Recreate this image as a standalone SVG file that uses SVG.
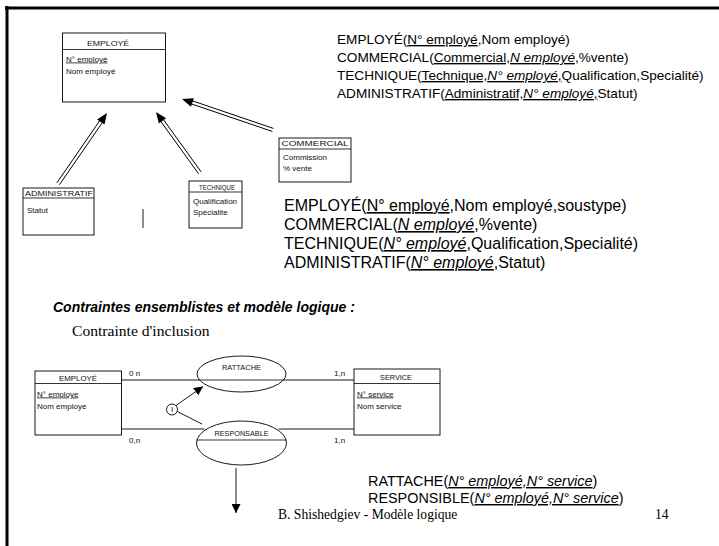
<svg xmlns="http://www.w3.org/2000/svg" width="719" height="546" viewBox="0 0 719 546">
  <style>
    .frame { stroke: #000; stroke-width: 3; fill: none; }
    .box { fill: #fff; stroke: #000; stroke-width: 0.9; }
    .sep { stroke: #000; stroke-width: 0.8; }
    .ttl { font-family: "Liberation Sans", Arial, sans-serif; font-size: 8px; fill: #111; text-anchor: middle; }
    .att { font-family: "Liberation Sans", Arial, sans-serif; font-size: 8px; fill: #111; }
    .card { font-family: "Liberation Sans", Arial, sans-serif; font-size: 8px; fill: #111; }
    .rel { font-family: "Liberation Sans", Arial, sans-serif; font-size: 13.6px; fill: #000; }
    .rel2 { font-family: "Liberation Sans", Arial, sans-serif; font-size: 16px; fill: #000; }
    .rel3 { font-family: "Liberation Sans", Arial, sans-serif; font-size: 14.4px; fill: #000; }
    .u { text-decoration: underline; }
    .i { font-style: italic; }
    .head { font-family: "Liberation Sans", Arial, sans-serif; font-size: 14px; font-weight: bold; font-style: italic; fill: #000; }
    .serif { font-family: "Liberation Serif", "Times New Roman", serif; fill: #000; }
    .ln { stroke: #000; stroke-width: 0.9; fill: none; }
    .dl { stroke: #000; stroke-width: 0.9; }
  </style>
  <defs>
    <marker id="tri" viewBox="0 0 10 10" refX="10" refY="5" markerWidth="9" markerHeight="9" markerUnits="userSpaceOnUse" orient="auto">
      <path d="M0,0 L10,5 L0,10 z" fill="#000"/>
    </marker>
  </defs>

  <!-- page frame -->
  <path class="frame" d="M5,8 H719 M7,6 V546"/>

  <!-- generalisation diagram -->
  <g id="employe-top">
    <rect class="box" x="62.5" y="33" width="103" height="69"/>
    <line class="sep" x1="62.5" y1="49.5" x2="165.5" y2="49.5"/>
    <text class="ttl" x="108" y="45.5" textLength="42" lengthAdjust="spacingAndGlyphs">EMPLOYÉ</text>
    <text class="att" x="66" y="61.5"><tspan class="u">N° employé</tspan></text>
    <text class="att" x="66" y="73.5">Nom employé</text>
  </g>
  <g id="administratif">
    <rect class="box" x="23" y="188" width="71" height="47"/>
    <line class="sep" x1="23" y1="198" x2="94" y2="198"/>
    <text class="ttl" x="59" y="195.5" textLength="68" lengthAdjust="spacingAndGlyphs">ADMINISTRATIF</text>
    <text class="att" x="27" y="213">Statut</text>
  </g>
  <g id="technique">
    <rect class="box" x="189" y="181" width="53" height="47"/>
    <line class="sep" x1="189" y1="192" x2="242" y2="192"/>
    <text class="ttl" x="217" y="189.5" textLength="36" lengthAdjust="spacingAndGlyphs">TECHNIQUE</text>
    <text class="att" x="193" y="204">Qualification</text>
    <text class="att" x="193" y="215">Spécialite</text>
  </g>
  <g id="commercial">
    <rect class="box" x="279" y="138" width="72" height="44"/>
    <line class="sep" x1="279" y1="149" x2="351" y2="149"/>
    <text class="ttl" x="315" y="146" textLength="67" lengthAdjust="spacingAndGlyphs">COMMERCIAL</text>
    <text class="att" x="283" y="159.5">Commission</text>
    <text class="att" x="283" y="170.5">% vente</text>
  </g>

  <g id="connectors-top">
    <!-- double-shaft inheritance arrows, tip at local origin -->
    <g transform="translate(107,113) rotate(-55.4)">
      <polygon points="0,0 -11,-4.5 -11,4.5" fill="#000"/>
      <line class="dl" x1="-9" y1="-1.6" x2="-86" y2="-1.6"/>
      <line class="dl" x1="-9" y1="1.6" x2="-86" y2="1.6"/>
    </g>
    <g transform="translate(156,112) rotate(-125.8)">
      <polygon points="0,0 -11,-4.5 -11,4.5" fill="#000"/>
      <line class="dl" x1="-9" y1="-1.6" x2="-75" y2="-1.6"/>
      <line class="dl" x1="-9" y1="1.6" x2="-75" y2="1.6"/>
    </g>
    <g transform="translate(182,99) rotate(-161.2)">
      <polygon points="0,0 -11,-4.5 -11,4.5" fill="#000"/>
      <line class="dl" x1="-9" y1="-1.6" x2="-96" y2="-1.6"/>
      <line class="dl" x1="-9" y1="1.6" x2="-96" y2="1.6"/>
    </g>
    <line class="ln" x1="143" y1="209" x2="143" y2="228"/>
  </g>

  <!-- relational schema, one table per subtype -->
  <g id="schema-1">
    <text class="rel" x="337" y="44">EMPLOYÉ(<tspan class="u">N° employé</tspan>,Nom employé)</text>
    <text class="rel" x="337" y="62">COMMERCIAL(<tspan class="u">Commercial,<tspan class="i">N employé</tspan></tspan>,%vente)</text>
    <text class="rel" x="337" y="80">TECHNIQUE(<tspan class="u">Technique,<tspan class="i">N° employé</tspan>,</tspan>Qualification,Specialité)</text>
    <text class="rel" x="337" y="98">ADMINISTRATIF(<tspan class="u">Administratif,<tspan class="i">N° employé</tspan>,</tspan>Statut)</text>
  </g>

  <!-- relational schema with subtype attribute -->
  <g id="schema-2">
    <text class="rel2" x="284" y="211">EMPLOYÉ(<tspan class="u">N° employé</tspan>,Nom employé,soustype)</text>
    <text class="rel2" x="284" y="230">COMMERCIAL(<tspan class="u i">N employé</tspan>,%vente)</text>
    <text class="rel2" x="284" y="249">TECHNIQUE(<tspan class="u"><tspan class="i">N° employé</tspan>,</tspan>Qualification,Specialité)</text>
    <text class="rel2" x="284" y="268">ADMINISTRATIF(<tspan class="u"><tspan class="i">N° employé</tspan>,</tspan>Statut)</text>
  </g>

  <text class="head" x="53" y="312">Contraintes ensemblistes et modèle logique :</text>
  <text class="serif" x="72" y="336" font-size="15.6">Contrainte d'inclusion</text>

  <!-- inclusion constraint diagram -->
  <g id="employe-bottom">
    <rect class="box" x="35" y="371" width="86.5" height="64"/>
    <line class="sep" x1="35" y1="383.5" x2="121.5" y2="383.5"/>
    <text class="ttl" x="78" y="380.5" textLength="38" lengthAdjust="spacingAndGlyphs">EMPLOYÉ</text>
    <text class="att" x="37" y="396.5"><tspan class="u">N° employe</tspan></text>
    <text class="att" x="37" y="409">Nom employe</text>
  </g>
  <g id="service">
    <rect class="box" x="354" y="369" width="86" height="66"/>
    <line class="sep" x1="354" y1="383.5" x2="440" y2="383.5"/>
    <text class="ttl" x="396" y="380" textLength="32" lengthAdjust="spacingAndGlyphs">SERVICE</text>
    <text class="att" x="357" y="396.5"><tspan class="u">N° service</tspan></text>
    <text class="att" x="357" y="409">Nom service</text>
  </g>
  <g id="rattache">
    <ellipse class="box" cx="241.5" cy="374" rx="44.5" ry="18"/>
    <line class="sep" x1="199.5" y1="380" x2="283.5" y2="380"/>
    <text class="ttl" x="241.5" y="370" textLength="39" lengthAdjust="spacingAndGlyphs">RATTACHE</text>
  </g>
  <g id="responsable">
    <ellipse class="box" cx="241.5" cy="443" rx="45" ry="22"/>
    <line class="sep" x1="196.7" y1="440" x2="286.3" y2="440"/>
    <text class="ttl" x="241.5" y="435.5" textLength="54" lengthAdjust="spacingAndGlyphs">RESPONSABLE</text>
  </g>
  <g id="inclusion">
    <circle class="box" cx="172" cy="409.5" r="5.5"/>
    <text class="att" x="172" y="412.3" text-anchor="middle" font-size="7">I</text>
  </g>

  <g id="connectors-bottom">
    <line class="ln" x1="121.5" y1="380" x2="199.5" y2="380"/>
    <line class="ln" x1="283.5" y1="380" x2="354" y2="380"/>
    <line class="ln" x1="121.5" y1="429" x2="204.5" y2="429"/>
    <line class="ln" x1="278.5" y1="429" x2="354" y2="429"/>
    <line class="ln" x1="176" y1="405.5" x2="203" y2="386.5" marker-end="url(#tri)"/>
    <line class="ln" x1="177.3" y1="411.5" x2="202" y2="424"/>
    <line class="ln" x1="236" y1="468" x2="236" y2="513" marker-end="url(#tri)"/>
    <text class="card" x="129" y="376">0 n</text>
    <text class="card" x="129" y="443">0,n</text>
    <text class="card" x="334" y="376">1,n</text>
    <text class="card" x="334" y="443">1,n</text>
  </g>

  <g id="schema-3">
    <text class="rel3" x="368" y="486">RATTACHE(<tspan class="u i">N° employé,N° service</tspan>)</text>
    <text class="rel3" x="368" y="503">RESPONSIBLE(<tspan class="u i">N° employé,N° service</tspan>)</text>
  </g>

  <!-- footer -->
  <text class="serif" x="278" y="519" font-size="13.6" fill="#222">B. Shishedgiev - Modèle logique</text>
  <text class="serif" x="655" y="519" font-size="13.6" fill="#222">14</text>
</svg>
